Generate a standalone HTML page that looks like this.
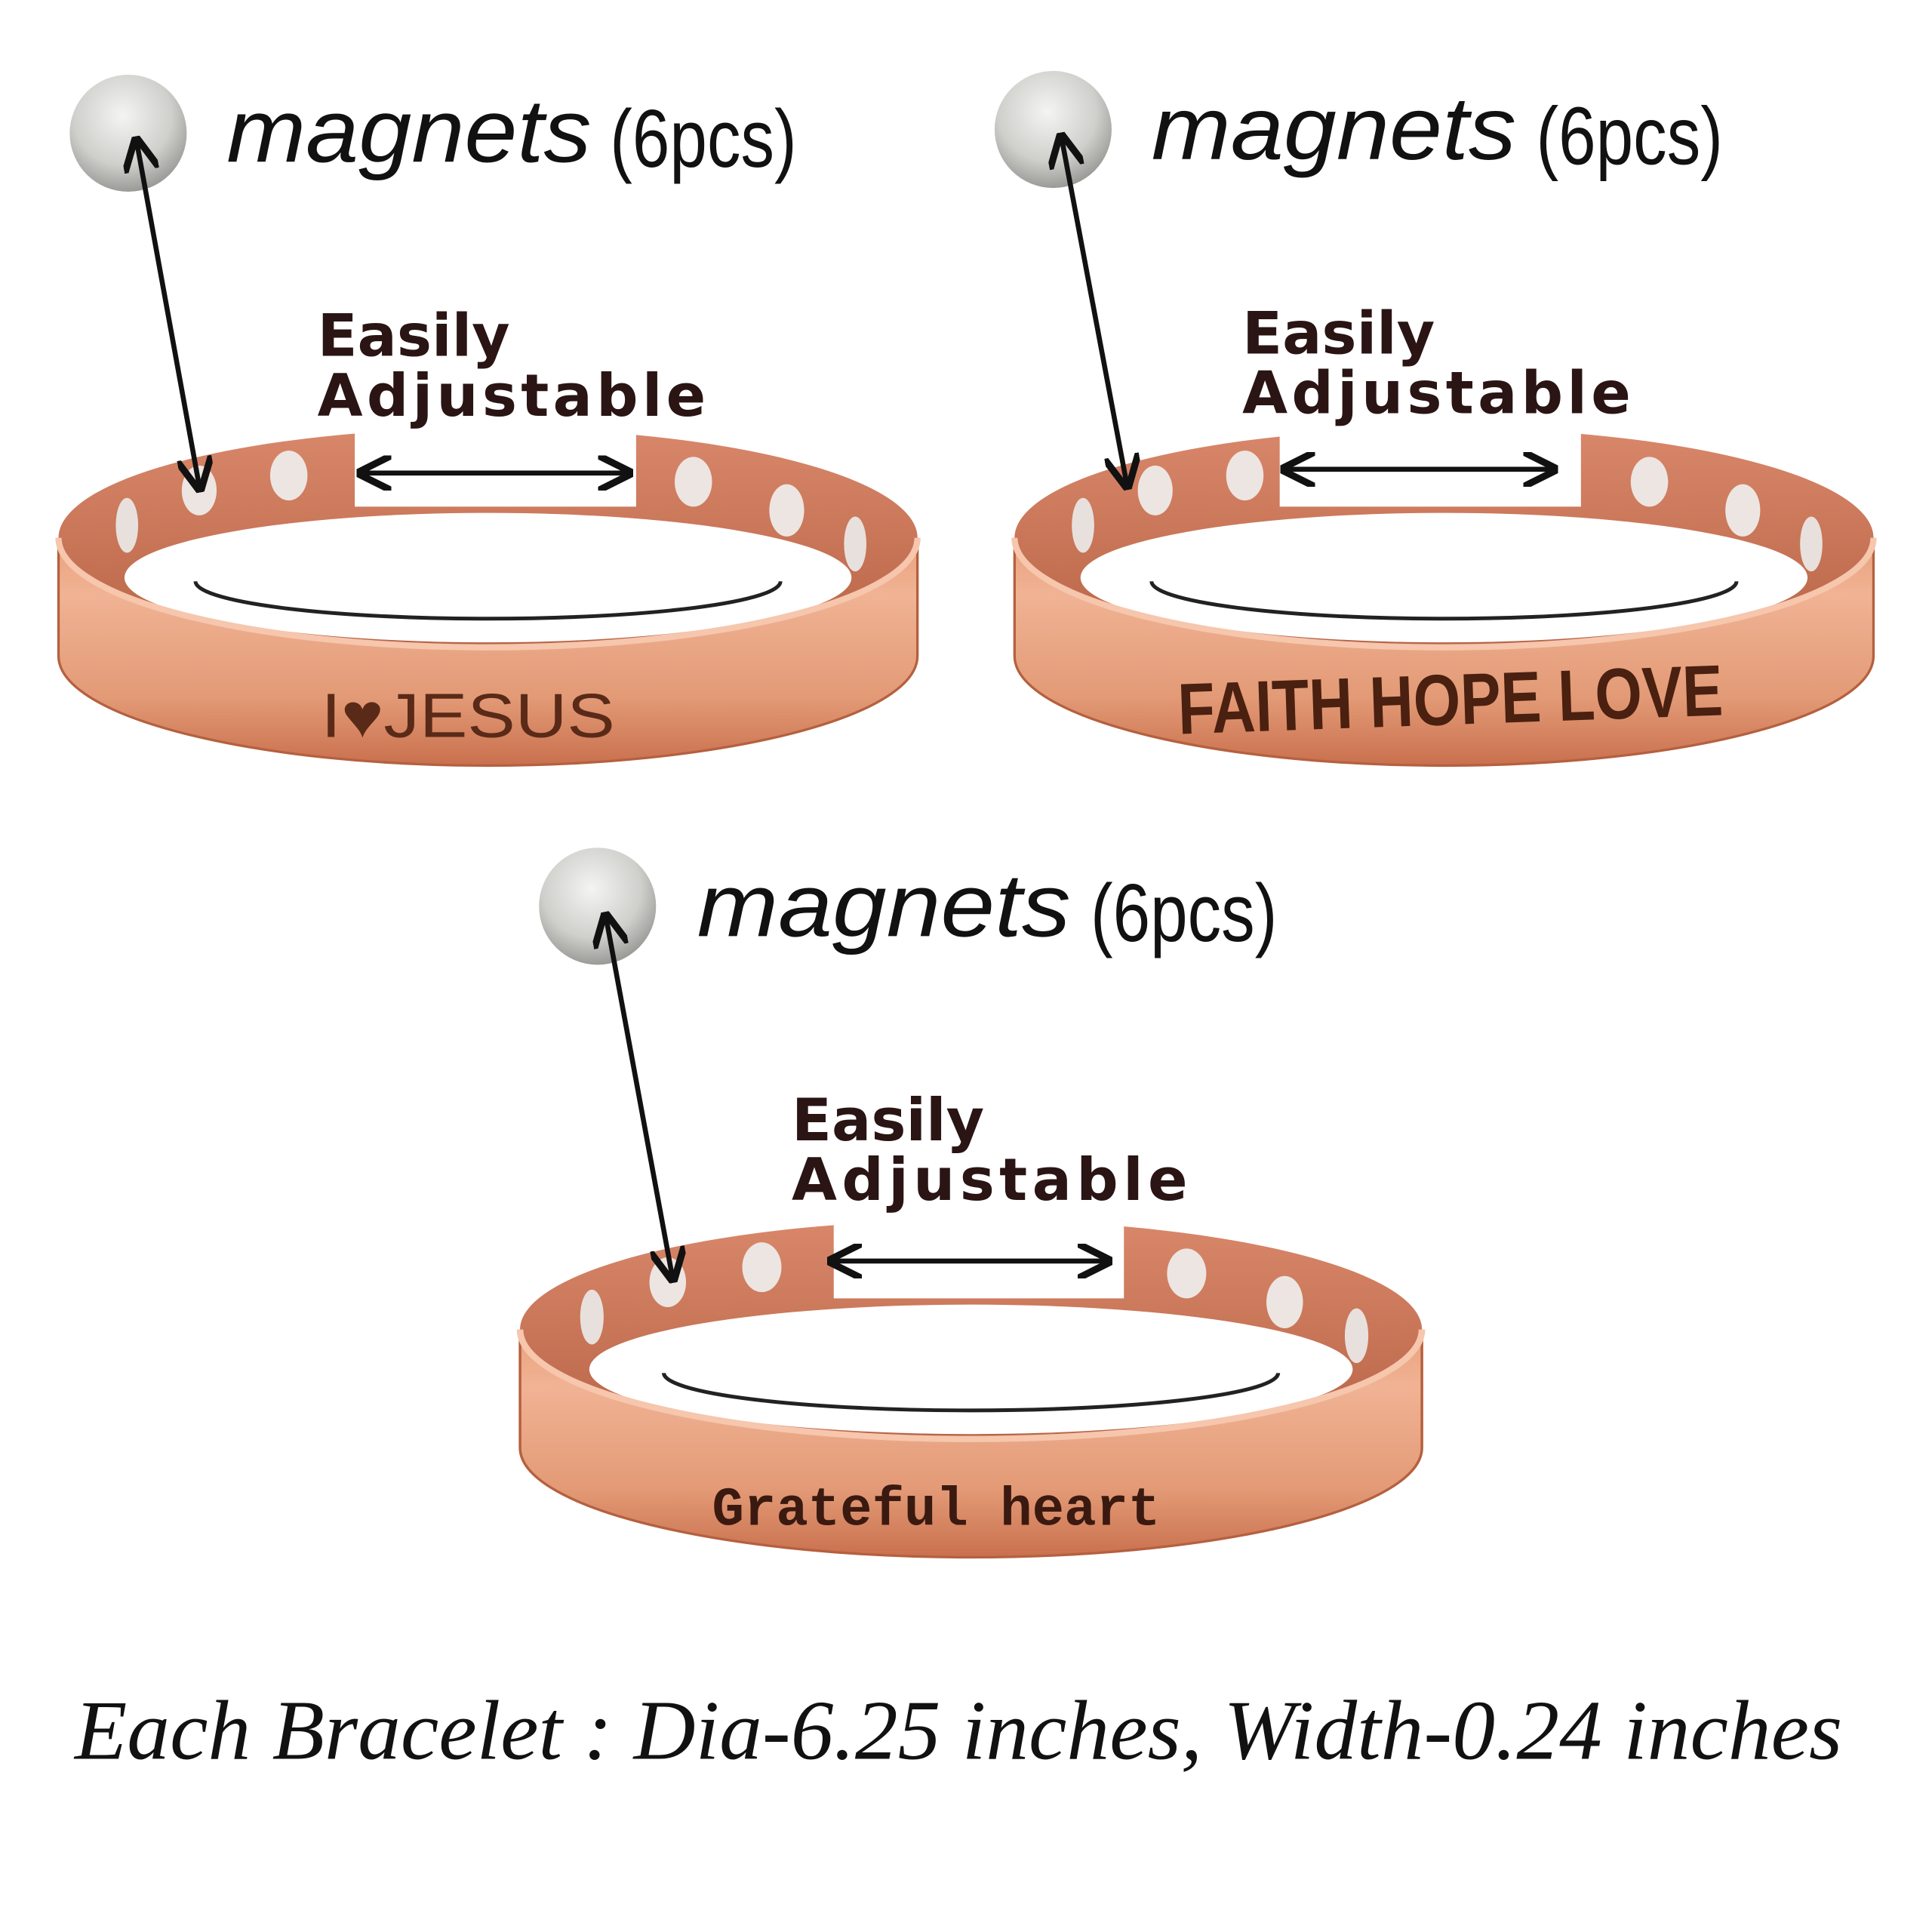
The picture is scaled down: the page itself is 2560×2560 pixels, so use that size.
<!DOCTYPE html>
<html><head><meta charset="utf-8"><style>
html,body{margin:0;padding:0;background:#fff;}
svg{display:block;}
</style></head><body>
<svg width="2560" height="2560" viewBox="0 0 1552 1552" xmlns="http://www.w3.org/2000/svg">
<defs>
<radialGradient id="mag" cx="0.45" cy="0.35" r="0.7">
<stop offset="0" stop-color="#f4f4f2"/><stop offset="0.6" stop-color="#cfcfcc"/><stop offset="1" stop-color="#8f8f8c"/>
</radialGradient>
<linearGradient id="band" x1="0" y1="0" x2="0" y2="1">
<stop offset="0" stop-color="#e9a07c"/><stop offset="0.25" stop-color="#f0b394"/><stop offset="0.7" stop-color="#e39a76"/><stop offset="1" stop-color="#c9704e"/>
</linearGradient>
<linearGradient id="inner" x1="0" y1="0" x2="0" y2="1">
<stop offset="0" stop-color="#d9876a"/><stop offset="1" stop-color="#b86447"/>
</linearGradient>
<marker id="ah" viewBox="0 0 10 10" refX="8" refY="5" markerWidth="7" markerHeight="7" orient="auto-start-reverse">
<path d="M0,0 L10,5 L0,10" fill="none" stroke="#111" stroke-width="2"/>
</marker>
<g id="bracelet">
<ellipse cx="0" cy="0" rx="345" ry="88" fill="url(#inner)"/>
<path d="M-345,0 A345,88 0 0 0 345,0 L345,95 A345,88 0 0 1 -345,95 Z" fill="url(#band)" stroke="#b5603f" stroke-width="2"/>
<ellipse cx="0" cy="32" rx="292" ry="52" fill="#fff"/>
<path d="M-235,35 A235,30 0 0 0 235,35" fill="none" stroke="#222" stroke-width="3"/>
<path d="M-345,0 A345,88 0 0 0 345,0" fill="none" stroke="#f6c6ad" stroke-width="5"/>
<ellipse cx="-290" cy="-10" rx="9" ry="22" fill="#e8e0dc"/>
<ellipse cx="-232" cy="-38" rx="14" ry="20" fill="#ede5e1"/>
<ellipse cx="-160" cy="-50" rx="15" ry="20" fill="#ede5e1"/>
<ellipse cx="165" cy="-45" rx="15" ry="20" fill="#ede5e1"/>
<ellipse cx="240" cy="-22" rx="14" ry="21" fill="#ede5e1"/>
<ellipse cx="295" cy="5" rx="9" ry="22" fill="#e8e0dc"/>
</g>
</defs>

<!-- Bracelet 1 -->
<g transform="translate(392,432)">
<use href="#bracelet"/>
<rect x="-107" y="-100" width="226" height="75" fill="#fff"/>
</g>
<circle cx="103" cy="107" r="47" fill="url(#mag)"/>
<text x="182" y="130" font-family="Liberation Sans, sans-serif" font-style="italic" font-size="72" fill="#111" textLength="293" lengthAdjust="spacingAndGlyphs">magnets</text>
<text x="490" y="134" font-family="Liberation Sans, sans-serif" font-size="66" fill="#111" textLength="150" lengthAdjust="spacingAndGlyphs">(6pcs)</text>
<line x1="110" y1="115" x2="160" y2="390" stroke="#111" stroke-width="4" marker-start="url(#ah)" marker-end="url(#ah)"/>
<text x="255" y="286" font-family="DejaVu Sans, sans-serif" font-weight="bold" font-size="47" fill="#2a1414">Easily</text>
<text x="255" y="334" font-family="DejaVu Sans, sans-serif" font-weight="bold" font-size="47" fill="#2a1414" textLength="312">Adjustable</text>
<line x1="292" y1="380" x2="503" y2="380" stroke="#111" stroke-width="4" marker-start="url(#ah)" marker-end="url(#ah)"/>
<text x="258" y="592" font-family="Liberation Sans, sans-serif" font-size="50" fill="#5a2a18" textLength="236" lengthAdjust="spacingAndGlyphs">I♥JESUS</text>

<!-- Bracelet 2 -->
<g transform="translate(1160,432)">
<use href="#bracelet"/>
<rect x="-132" y="-100" width="242" height="75" fill="#fff"/>
</g>
<circle cx="846" cy="104" r="47" fill="url(#mag)"/>
<text x="925" y="128" font-family="Liberation Sans, sans-serif" font-style="italic" font-size="72" fill="#111" textLength="293" lengthAdjust="spacingAndGlyphs">magnets</text>
<text x="1234" y="132" font-family="Liberation Sans, sans-serif" font-size="66" fill="#111" textLength="150" lengthAdjust="spacingAndGlyphs">(6pcs)</text>
<line x1="853" y1="112" x2="905" y2="388" stroke="#111" stroke-width="4" marker-start="url(#ah)" marker-end="url(#ah)"/>
<text x="998" y="284" font-family="DejaVu Sans, sans-serif" font-weight="bold" font-size="47" fill="#2a1414">Easily</text>
<text x="998" y="332" font-family="DejaVu Sans, sans-serif" font-weight="bold" font-size="47" fill="#2a1414" textLength="312">Adjustable</text>
<line x1="1034" y1="377" x2="1246" y2="377" stroke="#111" stroke-width="4" marker-start="url(#ah)" marker-end="url(#ah)"/>
<text x="946" y="582" font-family="Liberation Sans, sans-serif" font-weight="bold" font-size="58" fill="#4a2010" textLength="438" lengthAdjust="spacingAndGlyphs" transform="rotate(-2 1165 560)">FAITH HOPE LOVE</text>

<!-- Bracelet 3 -->
<g transform="translate(780,1068) scale(1.05,1)">
<use href="#bracelet"/>
<rect x="-105" y="-100" width="222" height="75" fill="#fff"/>
</g>
<circle cx="480" cy="728" r="47" fill="url(#mag)"/>
<text x="560" y="752" font-family="Liberation Sans, sans-serif" font-style="italic" font-size="72" fill="#111" textLength="300" lengthAdjust="spacingAndGlyphs">magnets</text>
<text x="876" y="756" font-family="Liberation Sans, sans-serif" font-size="66" fill="#111" textLength="150" lengthAdjust="spacingAndGlyphs">(6pcs)</text>
<line x1="487" y1="738" x2="540" y2="1025" stroke="#111" stroke-width="4" marker-start="url(#ah)" marker-end="url(#ah)"/>
<text x="636" y="916" font-family="DejaVu Sans, sans-serif" font-weight="bold" font-size="47" fill="#2a1414">Easily</text>
<text x="636" y="964" font-family="DejaVu Sans, sans-serif" font-weight="bold" font-size="47" fill="#2a1414" textLength="318">Adjustable</text>
<line x1="670" y1="1013" x2="888" y2="1013" stroke="#111" stroke-width="4" marker-start="url(#ah)" marker-end="url(#ah)"/>
<text x="572" y="1225" font-family="Liberation Mono, monospace" font-weight="bold" font-size="44" fill="#3a1a10" textLength="360" lengthAdjust="spacingAndGlyphs">Grateful heart</text>

<text x="60" y="1413" font-family="Liberation Serif, serif" font-style="italic" font-size="68" fill="#111" textLength="1420" lengthAdjust="spacingAndGlyphs">Each Bracelet : Dia-6.25 inches, Width-0.24 inches</text>
</svg>
</body></html>
